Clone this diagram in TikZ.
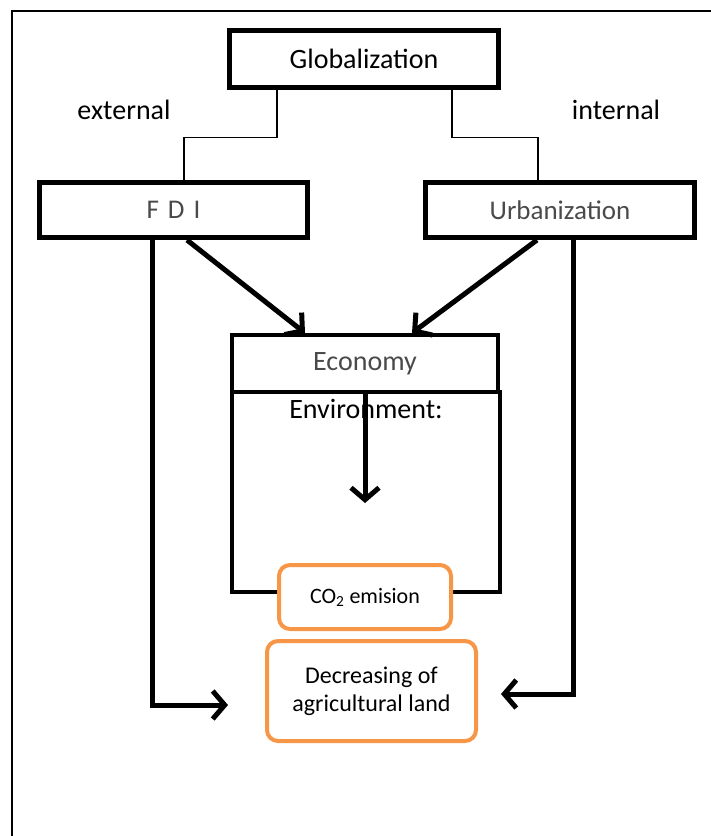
\documentclass[tikz,border=0pt]{standalone}
\usepackage{fontspec}
\setmainfont{Carlito}
\usetikzlibrary{arrows.meta}
\definecolor{orng}{HTML}{F79646}
\definecolor{greytext}{HTML}{4A4A4A}
\begin{document}
\begin{tikzpicture}[x=1pt,y=-1pt,
  blk/.style={draw, line width=5pt, fill=white, inner sep=0pt, font=\fontsize{28}{30}\selectfont},
  midbox/.style={draw, line width=4pt, inner sep=0pt},
  obox/.style={draw=orng, line width=4pt, rounded corners=11pt, fill=white, inner sep=0pt, align=center},
  thinline/.style={line width=1.2pt},
  arr/.style={line width=5pt, -{Straight Barb[length=12pt,width=28pt]}},
  lbl/.style={inner sep=0pt, font=\fontsize{28}{30}\selectfont}]
\useasboundingbox (0,0) rectangle (711,836);
\draw[line width=2pt] (12,836) -- (12,11) -- (711,11);

\node[blk, minimum width=269pt, minimum height=57pt] (glob) at (364,59) {Globalization};
\node[blk, minimum width=268pt, minimum height=55pt, font=\fontsize{27}{30}\selectfont, text=greytext] (fdi) at (173.5,210) {F\,\,D\,\,I};
\node[blk, minimum width=269pt, minimum height=55pt, font=\fontsize{27}{30}\selectfont, text=greytext] (urb) at (560,210) {Urbanization};

\node[lbl] (ext) at (124,110) {external};
\node[lbl] (int) at (616,110) {internal};

\draw[thinline] ([xshift=-87pt]glob.south) -- ++(0,47.5) -| ([xshift=10.5pt]fdi.north);
\draw[thinline] ([xshift=88pt]glob.south) -- ++(0,47.5) -| ([xshift=-22pt]urb.north);

\node[midbox, minimum width=268pt, minimum height=200pt] (env) at (366,492) {};
\node[midbox, fill=white, minimum width=266pt, minimum height=57pt, font=\fontsize{28}{30}\selectfont, text=greytext] (econ) at (365,363.5) {Economy};
\node[lbl] (envtext) at (366,409) {Environment:};

\coordinate (econtip) at (365,503);
\draw[arr] (econ.south) -- (econtip);

\node[obox, minimum width=172pt, minimum height=64pt, font=\fontsize{22}{24}\selectfont] (co2) at (365,597) {CO\textsubscript{2} emision};
\node[obox, minimum width=209pt, minimum height=100pt, font=\fontsize{24}{28}\selectfont] (dec) at (371.5,691) {Decreasing of\\agricultural land};

\draw[arr] ([xshift=13.5pt]fdi.south) -- ([xshift=-60pt]econ.north);
\draw[arr] ([xshift=-23pt]urb.south) -- ([xshift=47pt]econ.north);

\coordinate (ltip) at (228,705);
\coordinate (rtip) at (501,694);
\draw[arr] ([xshift=-21.5pt]fdi.south) |- (ltip);
\draw[arr] ([xshift=13pt]urb.south) |- (rtip);
\end{tikzpicture}
\end{document}
